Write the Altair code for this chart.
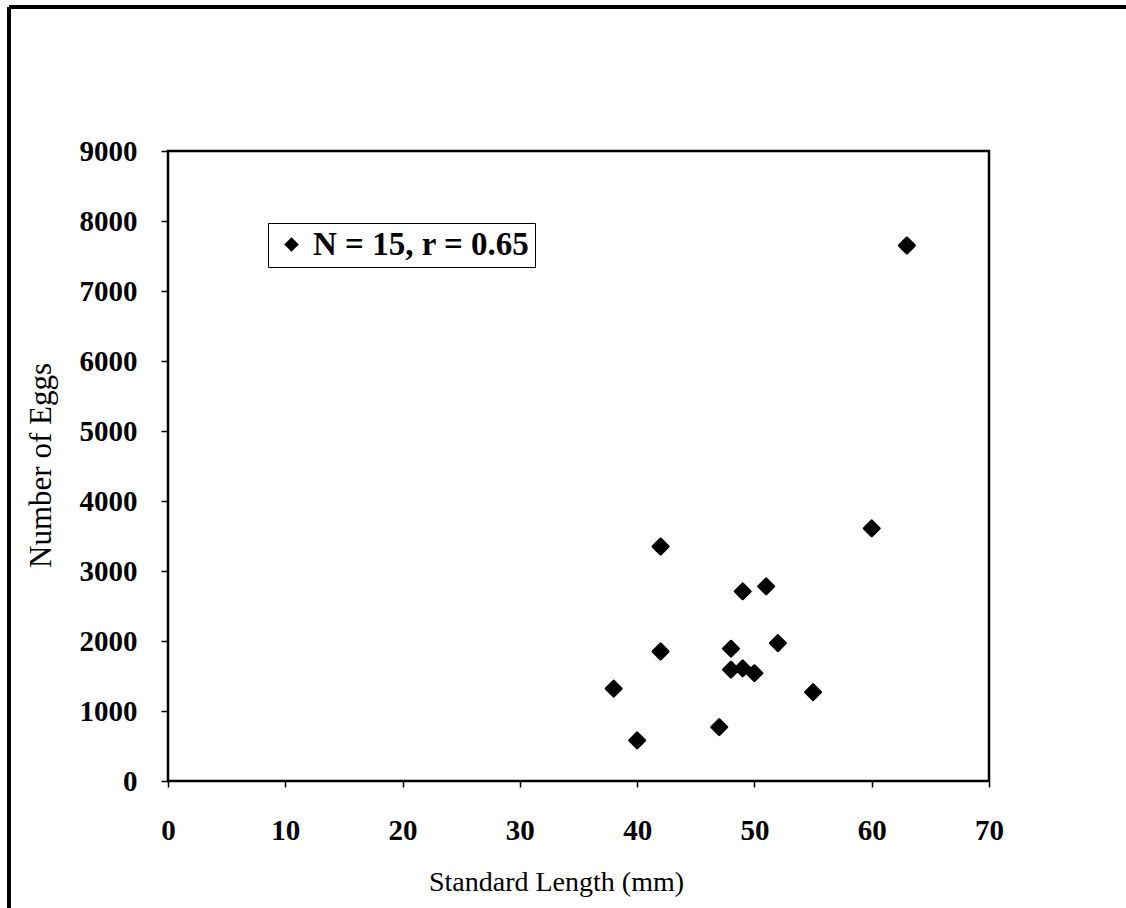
import altair as alt
import pandas as pd

# Data
length_mm = [38, 40, 42, 42, 47, 48, 48, 49, 49, 50, 51, 52, 55, 60, 63]
num_eggs = [1320, 580, 3350, 1850, 770, 1890, 1590, 1610, 2710, 1540, 2780, 1970, 1270, 3610, 7650]
series_label = "N = 15, r = 0.65"
x_ticks = [0, 10, 20, 30, 40, 50, 60, 70]
y_ticks = [0, 1000, 2000, 3000, 4000, 5000, 6000, 7000, 8000, 9000]

df = pd.DataFrame({"x": length_mm, "y": num_eggs, "s": [series_label] * len(length_mm)})

FONT = "Liberation Serif"
W, H = 821, 630
LEFT, TOP = 168, 151

points = alt.Chart(df).mark_point(
    shape="diamond", filled=True, size=240, opacity=1,
    stroke="black", strokeWidth=2.5, strokeJoin="round", color="black"
).encode(
    x=alt.X("x:Q", scale=alt.Scale(domain=[0, 70], nice=False, zero=True),
            axis=alt.Axis(values=x_ticks, format="d", title="Standard Length (mm)", grid=False,
                          domain=False, tickSize=6, tickColor="black", tickWidth=1.5,
                          labelFlush=False, labelFont=FONT, labelFontSize=29,
                          labelFontWeight="bold", labelColor="black",
                          labelPadding=29, titleFont=FONT, titleFontSize=28,
                          titleFontWeight="normal", titleColor="black",
                          titleX=388, titleY=109, titleBaseline="alphabetic",
                          titleAlign="center")),
    y=alt.Y("y:Q", scale=alt.Scale(domain=[0, 9000], nice=False),
            axis=alt.Axis(values=y_ticks, format="d", title="Number of Eggs", grid=False,
                          domain=False, tickSize=7, tickColor="black", tickWidth=1.5,
                          labelFlush=False, labelFont=FONT, labelFontSize=29,
                          labelFontWeight="bold", labelColor="black",
                          labelPadding=24, titleFont=FONT, titleFontSize=31,
                          titleFontWeight="normal", titleColor="black",
                          titleAngle=-90, titleX=-118, titleY=314,
                          titleBaseline="alphabetic", titleAlign="center")),
    color=alt.Color("s:N", scale=alt.Scale(range=["black"]),
                    legend=alt.Legend(title=None, orient="none", legendX=100, legendY=72,
                                      strokeColor="black", padding=5, symbolOffset=2,
                                      symbolType="diamond", symbolSize=210,
                                      symbolStrokeWidth=0, symbolFillColor="black",
                                      labelFont=FONT, labelFontSize=33,
                                      labelFontWeight="bold",
                                      labelColor="black", labelOffset=5,
                                      labelLimit=400, fillColor="white")),
)

# page frame (scan border: top and left edges)
frame_left = alt.Chart(df).mark_rule(color="black", strokeWidth=3).encode(
    x=alt.value(-159), y=alt.value(-144), y2=alt.value(908 - TOP)
)
frame_top = alt.Chart(df).mark_rule(color="black", strokeWidth=3).encode(
    x=alt.value(-159), x2=alt.value(1126 - LEFT), y=alt.value(-144)
)

chart = alt.layer(frame_left, frame_top, points).properties(
    width=W, height=H,
    autosize=alt.AutoSizeParams(type="none"),
    padding={"left": LEFT, "top": TOP, "right": 1126 - LEFT - W, "bottom": 908 - TOP - H},
).configure(
    background="white",
    view=alt.ViewConfig(stroke="black", strokeWidth=2.5),
)

chart.save("out.html", embed_options={"renderer": "svg", "actions": False})
